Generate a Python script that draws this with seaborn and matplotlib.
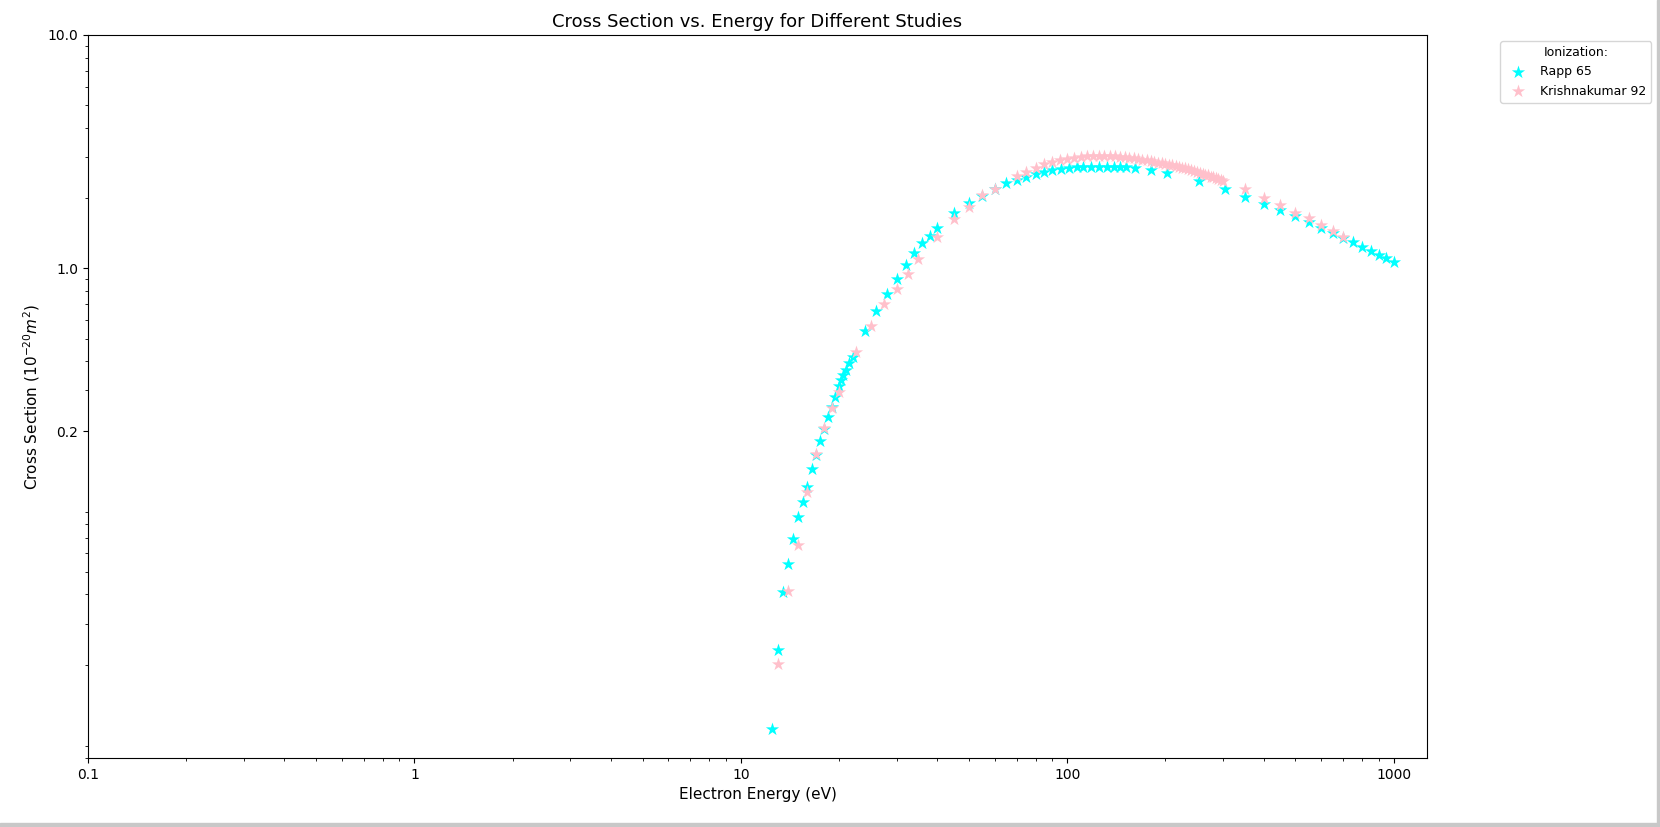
import matplotlib.pyplot as plt
import numpy as np
import pandas as pd
import seaborn as sns

# Rapp 65 ionization data
rapp_energy = [12.5, 13.0, 13.5, 14.0, 14.5, 15.0, 15.5, 16.0, 16.5, 17.0, 17.5, 18.0,
               18.5, 19.0, 19.5, 20.0, 20.3, 20.6, 21.0, 21.5, 22.0, 24.0, 26.0, 28.0,
               30.0, 32.0, 34.0, 36.0, 38.0, 40.0, 45.0, 50.0, 55.0, 60.0, 65.0, 70.0,
               75.0, 80.0, 85.0, 90.0, 96.0, 101.0, 107.0, 112.0, 118.0, 125.0, 132.0,
               139.0, 145.0, 151.0, 161.0, 181.0, 202.0, 253.0, 304.0, 350.0, 400.0,
               450.0, 500.0, 550.0, 600.0, 650.0, 700.0, 750.0, 800.0, 850.0, 900.0,
               950.0, 1000.0]
rapp_sigma = [0.0106, 0.0231, 0.0409, 0.0539, 0.0693, 0.0857, 0.0993, 0.116, 0.1375, 0.158,
              0.182, 0.205, 0.2298, 0.254, 0.280, 0.314, 0.332, 0.349, 0.3665, 0.3916,
              0.4155, 0.538, 0.658, 0.776, 0.902, 1.033, 1.163, 1.28, 1.375, 1.484, 1.721,
              1.910, 2.05, 2.18, 2.314, 2.390, 2.47, 2.53, 2.594, 2.638, 2.67, 2.69, 2.71,
              2.72, 2.73, 2.73, 2.73, 2.72, 2.72, 2.71, 2.683, 2.638, 2.555, 2.375, 2.187,
              2.027, 1.886, 1.778, 1.676, 1.584, 1.493, 1.413, 1.345, 1.292, 1.238, 1.19,
              1.14, 1.104, 1.061]

# Krishnakumar 92 ionization data
kk_energy = [13, 14, 15, 16, 17, 18, 19, 20, 22.5, 25, 27.5, 30, 32.5, 35, 40, 45, 50, 55,
             60, 70, 75, 80, 85, 90, 95, 100, 105, 110, 115, 120, 125, 130, 135, 140, 145,
             150, 155, 160, 165, 170, 175, 180, 185, 190, 195, 200, 205, 210, 215, 220,
             225, 230, 235, 240, 245, 250, 255, 260, 265, 270, 275, 280, 285, 290, 295,
             300, 350, 400, 450, 500, 550, 600, 650, 700]
kk_sigma = [0.0201, 0.0414, 0.0652, 0.1096, 0.1595, 0.206, 0.2527, 0.296, 0.439, 0.566,
            0.703, 0.813, 0.943, 1.096, 1.366, 1.627, 1.837, 2.055, 2.187, 2.487, 2.594,
            2.70, 2.80, 2.864, 2.91, 2.95, 2.98, 3.0, 3.02, 3.03, 3.03, 3.03, 3.03, 3.02,
            3.01, 3.0, 2.98, 2.96, 2.94, 2.92, 2.90, 2.88, 2.86, 2.84, 2.82, 2.80, 2.78,
            2.76, 2.74, 2.72, 2.70, 2.68, 2.66, 2.63, 2.61, 2.58, 2.56, 2.54, 2.52, 2.50,
            2.47, 2.45, 2.43, 2.41, 2.39, 2.375, 2.18, 1.995, 1.867, 1.731, 1.638, 1.53,
            1.447, 1.366]

df_rapp = pd.DataFrame({'Energy': rapp_energy, 'Sigma': rapp_sigma})
df_kk = pd.DataFrame({'Energy': kk_energy, 'Sigma': kk_sigma})

fig = plt.figure(figsize=(16.6, 8.27), dpi=100)
ax = fig.add_axes([0.053, 0.0834, 0.8066, 0.8743])

sns.scatterplot(data=df_rapp, x='Energy', y='Sigma', marker='*', color='cyan', s=100,
                linewidth=0, label='Rapp 65', ax=ax)
sns.scatterplot(data=df_kk, x='Energy', y='Sigma', marker='*', color='pink', s=100,
                linewidth=0, label='Krishnakumar 92', ax=ax)

ax.set_xscale('log')
ax.set_yscale('log')
ax.set_xlim(0.1, 1265)
ax.set_ylim(0.00796, 10)
ax.set_xticks([0.1, 1, 10, 100, 1000])
ax.set_xticklabels(['0.1', '1', '10', '100', '1000'])
ax.set_yticks([0.2, 1, 10])
ax.set_yticklabels(['0.2', '1.0', '10.0'])

ax.set_title('Cross Section vs. Energy for Different Studies', fontsize=13)
ax.set_xlabel('Electron Energy (eV)', fontsize=11)
ax.set_ylabel(r'Cross Section ($10^{-20}m^2$)', fontsize=11)
ax.legend(title='Ionization:', bbox_to_anchor=(1.05, 1), loc='upper left',
          fontsize=9, title_fontsize=9)

# screenshot shadow at right and bottom edges
fig.patches.append(plt.Rectangle((0.9979, 0), 0.0021, 1, transform=fig.transFigure,
                                 color='#c8c8c8', zorder=0))
fig.patches.append(plt.Rectangle((0, 0), 1, 0.0045, transform=fig.transFigure,
                                 color='#c8c8c8', zorder=0))

fig.savefig('out.png', dpi=100)
